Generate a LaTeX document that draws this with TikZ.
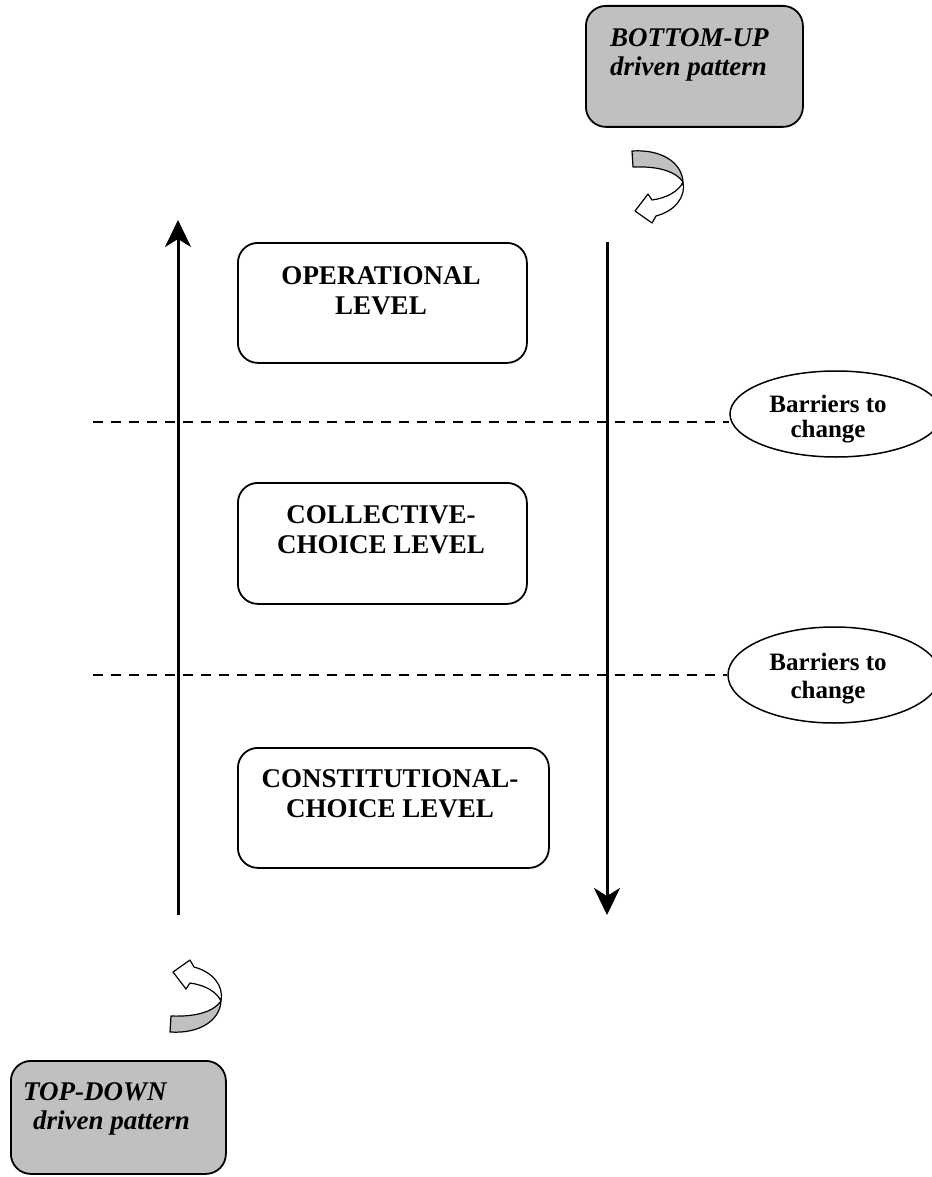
\documentclass[tikz,border=0pt]{standalone}
\usepackage{fontspec}
\setmainfont{Liberation Serif}
\usetikzlibrary{arrows.meta,shapes.geometric}
\definecolor{boxgray}{RGB}{192,192,192}
\begin{document}
\begin{tikzpicture}[x=1pt,y=-1pt,
  levelbox/.style={draw, line width=1.8pt, rounded corners=20pt, minimum height=120pt, anchor=north west, inner sep=0pt},
  graybox/.style={draw, line width=1.8pt, rounded corners=20pt, fill=boxgray, anchor=north west, inner sep=0pt},
  leveltext/.style={anchor=north, inner sep=0pt, align=center, font=\fontsize{27}{30}\selectfont\bfseries},
  patterntext/.style={anchor=north west, inner sep=0pt, align=left, font=\fontsize{27}{29}\selectfont\bfseries\itshape},
  barrier/.style={draw, ellipse, line width=1.5pt, inner sep=0pt},
  barriertext/.style={anchor=north, inner sep=0pt, align=center, font=\fontsize{25}{25}\selectfont\bfseries},
  bigarrow/.style={line width=3pt, -{Stealth[length=27pt,width=26pt,inset=8pt]}},
  dashline/.style={line width=2pt, dash pattern=on 10pt off 8pt},
  ribbon/.style={draw, line width=1.2pt, line join=round}
]
\useasboundingbox (0,0) rectangle (931,1177);

% gray pattern boxes
\node[graybox, minimum width=217pt, minimum height=121pt] (bubox) at (585,5) {};
\node[patterntext] (butext) at (610,28.7) {BOTTOM-UP\\driven pattern};
\node[graybox, minimum width=215pt, minimum height=113pt] (tdbox) at (10,1060) {};
\node[patterntext] (tdtext) at (23,1082) {TOP-DOWN\\\hspace*{10pt}driven pattern};

% level boxes
\node[levelbox, minimum width=289pt] (opbox) at (237,242) {};
\node[leveltext] (optext) at (381,266.7) {OPERATIONAL\\LEVEL};
\node[levelbox, minimum width=289pt, minimum height=121pt] (colbox) at (237,482) {};
\node[leveltext] (coltext) at (381,505.7) {COLLECTIVE-\\CHOICE LEVEL};
\node[levelbox, minimum width=311pt] (conbox) at (237,747) {};
\node[leveltext] (context) at (390,769.7) {CONSTITUTIONAL-\\CHOICE LEVEL};

% barriers
\node[barrier, minimum width=212pt, minimum height=86pt] (bar1) at (836,414) {};
\node[barriertext] (bar1text) at (828,394.8) {Barriers to\\change};
\node[barrier, minimum width=212pt, minimum height=96pt] (bar2) at (834,675) {};
\node[barriertext, font=\fontsize{25}{28}\selectfont\bfseries] (bar2text) at (828,652.8) {Barriers to\\change};

% dashed lines
\coordinate (d1) at (93,422);
\coordinate (d2) at (93,675);
\draw[dashline] (d1) -- (d1 -| bar1.west);
\draw[dashline] (d2) -- (d2 -| bar2.west);

% vertical arrows
\coordinate (up0) at (178,915);
\coordinate (up1) at (178,220);
\draw[bigarrow] (up0) -- (up1);
\coordinate (dn0) at (607,242);
\coordinate (dn1) at (607,915);
\draw[bigarrow] (dn0) -- (dn1);

% curved ribbon arrow (bottom-up)
\begin{scope}
\path[ribbon, fill=boxgray] (632,151) .. controls (662,149) and (682,163) .. (683,182)
   .. controls (676,172) and (660,166) .. (633,167) -- cycle;
\path[ribbon, fill=white] (683,182) .. controls (686,197) and (675,211) .. (656,216)
   -- (652,223) -- (635,211) -- (648,194) -- (652,200)
   .. controls (667,198) and (679,191) .. (683,182) -- cycle;
\end{scope}
% curved ribbon arrow (top-down), mirrored
\begin{scope}[shift={(-462,1183)}, yscale=-1]
\path[ribbon, fill=boxgray] (632,151) .. controls (662,149) and (682,163) .. (683,182)
   .. controls (676,172) and (660,166) .. (633,167) -- cycle;
\path[ribbon, fill=white] (683,182) .. controls (686,197) and (675,211) .. (656,216)
   -- (652,223) -- (635,211) -- (648,194) -- (652,200)
   .. controls (667,198) and (679,191) .. (683,182) -- cycle;
\end{scope}
\end{tikzpicture}
\end{document}
